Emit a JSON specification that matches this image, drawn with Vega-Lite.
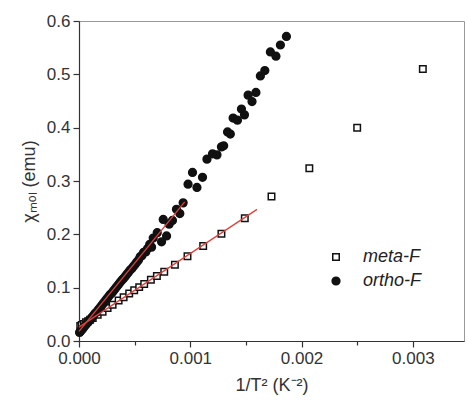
{
  "$schema": "https://vega.github.io/schema/vega-lite/v6.json",
  "width": 385,
  "height": 320,
  "autosize": {"type": "none"},
  "padding": {"left": 79, "top": 21, "right": 4, "bottom": 64},
  "background": "white",
  "config": {
    "font": "Liberation Sans",
    "view": {"stroke": "#999", "strokeWidth": 1},
    "axis": {
      "grid": false,
      "domainColor": "#333",
      "domainWidth": 1.2,
      "tickColor": "#333",
      "tickWidth": 1.2,
      "labelColor": "#333",
      "labelFontSize": 17,
      "labelFont": "Liberation Sans",
      "titleFont": "Liberation Sans",
      "titleFontSize": 18,
      "titleFontWeight": "normal",
      "titleColor": "#333",
      "labelPadding": 3
    },
    "legend": {
      "orient": "none",
      "legendX": 248,
      "legendY": 227,
      "padding": 0,
      "labelFontSize": 18,
      "labelFontStyle": "italic",
      "labelColor": "#222",
      "labelFont": "Liberation Sans",
      "labelOffset": 18,
      "rowPadding": 6,
      "symbolStrokeWidth": 1.5
    }
  },
  "datasets": {
    "pts": [
      {"s": "meta-F", "x": 0.0000111, "y": 0.028},
      {"s": "meta-F", "x": 0.000025, "y": 0.030},
      {"s": "meta-F", "x": 0.0000444, "y": 0.032},
      {"s": "meta-F", "x": 0.0000625, "y": 0.035},
      {"s": "meta-F", "x": 0.0000816, "y": 0.037},
      {"s": "meta-F", "x": 0.0001, "y": 0.040},
      {"s": "meta-F", "x": 0.0001235, "y": 0.043},
      {"s": "meta-F", "x": 0.000168, "y": 0.049},
      {"s": "meta-F", "x": 0.000212, "y": 0.055},
      {"s": "meta-F", "x": 0.000257, "y": 0.062},
      {"s": "meta-F", "x": 0.000302, "y": 0.068},
      {"s": "meta-F", "x": 0.000356, "y": 0.076},
      {"s": "meta-F", "x": 0.000401, "y": 0.082},
      {"s": "meta-F", "x": 0.000451, "y": 0.089},
      {"s": "meta-F", "x": 0.000496, "y": 0.095},
      {"s": "meta-F", "x": 0.000541, "y": 0.101},
      {"s": "meta-F", "x": 0.000586, "y": 0.107},
      {"s": "meta-F", "x": 0.000646, "y": 0.115},
      {"s": "meta-F", "x": 0.0007, "y": 0.122},
      {"s": "meta-F", "x": 0.000766, "y": 0.130},
      {"s": "meta-F", "x": 0.000862, "y": 0.143},
      {"s": "meta-F", "x": 0.000975, "y": 0.159},
      {"s": "meta-F", "x": 0.001116, "y": 0.178},
      {"s": "meta-F", "x": 0.00128, "y": 0.201},
      {"s": "meta-F", "x": 0.00149, "y": 0.230},
      {"s": "meta-F", "x": 0.00173, "y": 0.271},
      {"s": "meta-F", "x": 0.00207, "y": 0.324},
      {"s": "meta-F", "x": 0.0025, "y": 0.400},
      {"s": "meta-F", "x": 0.00309, "y": 0.510},
      {"s": "ortho-F", "x": 0.000005, "y": 0.016},
      {"s": "ortho-F", "x": 0.000012, "y": 0.018},
      {"s": "ortho-F", "x": 0.00002, "y": 0.020},
      {"s": "ortho-F", "x": 0.00003, "y": 0.022},
      {"s": "ortho-F", "x": 0.00004, "y": 0.025},
      {"s": "ortho-F", "x": 0.00005, "y": 0.028},
      {"s": "ortho-F", "x": 0.00006, "y": 0.030},
      {"s": "ortho-F", "x": 0.00007, "y": 0.033},
      {"s": "ortho-F", "x": 0.00008, "y": 0.035},
      {"s": "ortho-F", "x": 0.00009, "y": 0.038},
      {"s": "ortho-F", "x": 0.0001, "y": 0.040},
      {"s": "ortho-F", "x": 0.000115, "y": 0.044},
      {"s": "ortho-F", "x": 0.00013, "y": 0.048},
      {"s": "ortho-F", "x": 0.000145, "y": 0.052},
      {"s": "ortho-F", "x": 0.00016, "y": 0.055},
      {"s": "ortho-F", "x": 0.000175, "y": 0.059},
      {"s": "ortho-F", "x": 0.00019, "y": 0.063},
      {"s": "ortho-F", "x": 0.000205, "y": 0.067},
      {"s": "ortho-F", "x": 0.00022, "y": 0.071},
      {"s": "ortho-F", "x": 0.000235, "y": 0.075},
      {"s": "ortho-F", "x": 0.00025, "y": 0.079},
      {"s": "ortho-F", "x": 0.000265, "y": 0.083},
      {"s": "ortho-F", "x": 0.00028, "y": 0.087},
      {"s": "ortho-F", "x": 0.000295, "y": 0.090},
      {"s": "ortho-F", "x": 0.00031, "y": 0.094},
      {"s": "ortho-F", "x": 0.000325, "y": 0.098},
      {"s": "ortho-F", "x": 0.00034, "y": 0.102},
      {"s": "ortho-F", "x": 0.000355, "y": 0.106},
      {"s": "ortho-F", "x": 0.00037, "y": 0.110},
      {"s": "ortho-F", "x": 0.000385, "y": 0.114},
      {"s": "ortho-F", "x": 0.0004, "y": 0.117},
      {"s": "ortho-F", "x": 0.000415, "y": 0.121},
      {"s": "ortho-F", "x": 0.00043, "y": 0.125},
      {"s": "ortho-F", "x": 0.000445, "y": 0.129},
      {"s": "ortho-F", "x": 0.00046, "y": 0.133},
      {"s": "ortho-F", "x": 0.000475, "y": 0.136},
      {"s": "ortho-F", "x": 0.00049, "y": 0.140},
      {"s": "ortho-F", "x": 0.000505, "y": 0.144},
      {"s": "ortho-F", "x": 0.00052, "y": 0.148},
      {"s": "ortho-F", "x": 0.000535, "y": 0.152},
      {"s": "ortho-F", "x": 0.00055, "y": 0.158},
      {"s": "ortho-F", "x": 0.000565, "y": 0.160},
      {"s": "ortho-F", "x": 0.00058, "y": 0.166},
      {"s": "ortho-F", "x": 0.0006, "y": 0.167},
      {"s": "ortho-F", "x": 0.000615, "y": 0.173},
      {"s": "ortho-F", "x": 0.000635, "y": 0.181},
      {"s": "ortho-F", "x": 0.000652, "y": 0.176},
      {"s": "ortho-F", "x": 0.000667, "y": 0.193},
      {"s": "ortho-F", "x": 0.000703, "y": 0.203},
      {"s": "ortho-F", "x": 0.000742, "y": 0.186},
      {"s": "ortho-F", "x": 0.000757, "y": 0.228},
      {"s": "ortho-F", "x": 0.000787, "y": 0.197},
      {"s": "ortho-F", "x": 0.00081, "y": 0.219},
      {"s": "ortho-F", "x": 0.00084, "y": 0.226},
      {"s": "ortho-F", "x": 0.000876, "y": 0.247},
      {"s": "ortho-F", "x": 0.000906, "y": 0.239},
      {"s": "ortho-F", "x": 0.000936, "y": 0.259},
      {"s": "ortho-F", "x": 0.00098, "y": 0.294},
      {"s": "ortho-F", "x": 0.00102, "y": 0.316},
      {"s": "ortho-F", "x": 0.00106, "y": 0.288},
      {"s": "ortho-F", "x": 0.00111, "y": 0.307},
      {"s": "ortho-F", "x": 0.00115, "y": 0.341},
      {"s": "ortho-F", "x": 0.0012, "y": 0.351},
      {"s": "ortho-F", "x": 0.00124, "y": 0.349},
      {"s": "ortho-F", "x": 0.00128, "y": 0.364},
      {"s": "ortho-F", "x": 0.0013, "y": 0.366},
      {"s": "ortho-F", "x": 0.001335, "y": 0.392},
      {"s": "ortho-F", "x": 0.00136, "y": 0.388},
      {"s": "ortho-F", "x": 0.001385, "y": 0.418},
      {"s": "ortho-F", "x": 0.001424, "y": 0.414},
      {"s": "ortho-F", "x": 0.00146, "y": 0.435},
      {"s": "ortho-F", "x": 0.001487, "y": 0.424},
      {"s": "ortho-F", "x": 0.00152, "y": 0.461},
      {"s": "ortho-F", "x": 0.001555, "y": 0.449},
      {"s": "ortho-F", "x": 0.00159, "y": 0.466},
      {"s": "ortho-F", "x": 0.00163, "y": 0.497},
      {"s": "ortho-F", "x": 0.00167, "y": 0.507},
      {"s": "ortho-F", "x": 0.00172, "y": 0.542},
      {"s": "ortho-F", "x": 0.00177, "y": 0.534},
      {"s": "ortho-F", "x": 0.00181, "y": 0.555},
      {"s": "ortho-F", "x": 0.001864, "y": 0.571}
    ],
    "fits": [
      {"s": "meta-F", "x": 0, "y": 0.026},
      {"s": "meta-F", "x": 0.0016, "y": 0.2468},
      {"s": "ortho-F", "x": 0, "y": 0.018},
      {"s": "ortho-F", "x": 0.00095, "y": 0.261}
    ]
  },
  "layer": [
    {
      "data": {"name": "pts"},
      "mark": {"type": "point", "strokeWidth": 1.5, "opacity": 1},
      "encoding": {
        "x": {
          "field": "x", "type": "quantitative",
          "scale": {"domain": [0, 0.00346], "nice": false, "zero": false},
          "axis": {
            "title": "1/T² (K⁻²)",
            "values": [0, 0.0005, 0.001, 0.0015, 0.002, 0.0025, 0.003],
            "labelExpr": "round(datum.value*2000) % 2 == 0 ? format(datum.value, '.3f') : ''",
            "tickSize": {"condition": {"test": "round(datum.value*2000) % 2 == 0", "value": 6}, "value": 4},
            "titlePadding": 10,
            "labelFlush": false,
            "labelOverlap": false
          }
        },
        "y": {
          "field": "y", "type": "quantitative",
          "scale": {"domain": [0, 0.6], "nice": false},
          "axis": {
            "title": "χₘₒₗ (emu)",
            "values": [0, 0.05, 0.1, 0.15, 0.2, 0.25, 0.3, 0.35, 0.4, 0.45, 0.5, 0.55, 0.6],
            "labelExpr": "round(datum.value*20) % 2 == 0 ? format(datum.value, '.1f') : ''",
            "tickSize": {"condition": {"test": "round(datum.value*20) % 2 == 0", "value": 6}, "value": 4},
            "titlePadding": 8,
            "labelFlush": false,
            "labelOverlap": false
          }
        },
        "shape": {
          "field": "s", "type": "nominal", "title": null,
          "scale": {"domain": ["meta-F", "ortho-F"], "range": ["square", "circle"]}
        },
        "fill": {
          "field": "s", "type": "nominal", "title": null,
          "scale": {"domain": ["meta-F", "ortho-F"], "range": ["white", "#111"]}
        },
        "stroke": {
          "field": "s", "type": "nominal", "title": null,
          "scale": {"domain": ["meta-F", "ortho-F"], "range": ["#111", "#111"]}
        },
        "size": {
          "field": "s", "type": "nominal", "title": null,
          "scale": {"domain": ["meta-F", "ortho-F"], "range": [42, 60]}
        }
      }
    },
    {
      "data": {"name": "fits"},
      "mark": {"type": "line", "color": "#e0403a", "strokeWidth": 1.3},
      "encoding": {
        "x": {"field": "x", "type": "quantitative"},
        "y": {"field": "y", "type": "quantitative"},
        "detail": {"field": "s", "type": "nominal"}
      }
    }
  ]
}
